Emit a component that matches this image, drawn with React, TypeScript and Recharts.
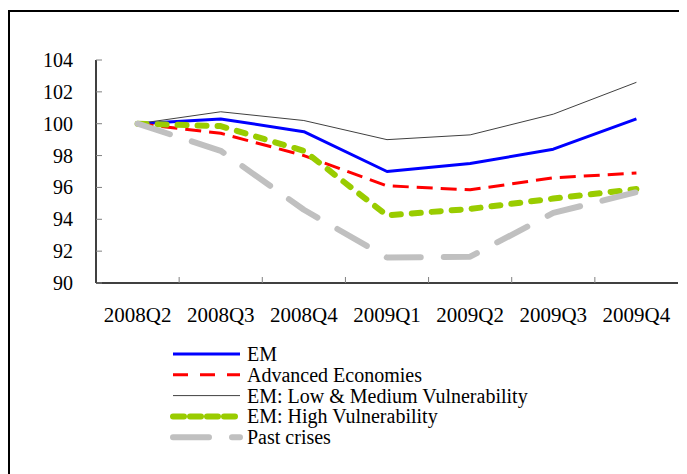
import { Line, LineChart, XAxis, YAxis } from 'recharts';

const quarters = ['2008Q2', '2008Q3', '2008Q4', '2009Q1', '2009Q2', '2009Q3', '2009Q4'];
const em = [100, 100.3, 99.5, 97.0, 97.5, 98.4, 100.3];
const advanced = [100, 99.4, 98.0, 96.1, 95.85, 96.6, 96.9];
const lowMed = [100, 100.75, 100.2, 99.0, 99.3, 100.6, 102.6];
const highVul = [100, 99.85, 98.3, 94.25, 94.65, 95.3, 95.9];
const pastCrises = [100, 98.3, 94.6, 91.6, 91.65, 94.4, 95.7];
const yTicks = [90, 92, 94, 96, 98, 100, 102, 104];

const data = quarters.map((q, i) => ({
  q,
  em: em[i],
  advanced: advanced[i],
  lowMed: lowMed[i],
  highVul: highVul[i],
  pastCrises: pastCrises[i],
}));

const FONT = 'Liberation Serif, Times New Roman, DejaVu Serif, serif';
const W = 687;
const H = 330;
const MARGIN = { top: 60, right: 9, left: 36, bottom: 7 };
const YW = 60;
const XH = 40;
const BAND = (W - MARGIN.left - MARGIN.right - YW) / quarters.length;

const series = [
  { key: 'em', name: 'EM', color: '#0000ff', width: 3, dash: undefined, cap: 'butt' },
  { key: 'advanced', name: 'Advanced Economies', color: '#ff0000', width: 3, dash: '16 8', cap: 'butt' },
  { key: 'lowMed', name: 'EM: Low & Medium Vulnerability', color: '#404040', width: 1, dash: undefined, cap: 'butt' },
  { key: 'highVul', name: 'EM: High Vulnerability', color: '#99cc00', width: 6, dash: '9 11', cap: 'round' },
  { key: 'pastCrises', name: 'Past crises', color: '#c0c0c0', width: 6, dash: '34 23', cap: 'round' },
];

const legendDash: Record<string, string | undefined> = {
  em: undefined,
  advanced: '15 12',
  lowMed: undefined,
  highVul: '11 6',
  pastCrises: '36 23',
};

const textStyle = { fontFamily: FONT };

function YTick(props: any) {
  const { x, y, payload } = props;
  return (
    <g>
      <text x={x} y={y} dy="0.35em" textAnchor="end" style={textStyle} fontSize={20} fill="#000">
        {payload.value}
      </text>
      <line x1={x + 23} x2={x + 29} y1={y} y2={y} stroke="#808080" strokeWidth={1} />
    </g>
  );
}

function XTick(props: any) {
  const { x, y, payload, index } = props;
  const axisY = y - 24;
  return (
    <g>
      <text x={x} y={y} dy="0.71em" textAnchor="middle" style={textStyle} fontSize={21} fill="#000">
        {payload.value}
      </text>
      {index < quarters.length - 1 && (
        <line x1={x + BAND / 2} x2={x + BAND / 2} y1={axisY} y2={axisY - 6} stroke="#808080" strokeWidth={1} />
      )}
    </g>
  );
}

export default function App() {
  return (
    <div style={{ position: 'relative', width: W, height: 474, fontFamily: FONT }}>
      <div
        style={{
          position: 'absolute',
          left: 0,
          top: 2,
          width: 700,
          height: 500,
          borderTop: '2.5px solid #000',
          borderLeft: '2.5px solid #000',
          boxSizing: 'border-box',
        }}
      />
      <div style={{ position: 'absolute', left: -8, top: -8 }}>
        <LineChart width={W} height={H} data={data} margin={MARGIN}>
          <XAxis
            dataKey="q"
            interval={0}
            height={XH}
            tickSize={0}
            tickMargin={24}
            tick={<XTick />}
            axisLine={{ stroke: '#000', strokeWidth: 1.5 }}
            padding={{ left: BAND / 2, right: BAND / 2 }}
          />
          <XAxis
            xAxisId="top"
            dataKey="q"
            orientation="top"
            height={0}
            tick={false}
            tickLine={false}
            axisLine={{ stroke: '#808080', strokeWidth: 1 }}
          />
          <YAxis
            domain={[90, 104]}
            ticks={yTicks}
            width={YW}
            tickSize={0}
            tickMargin={23}
            tick={<YTick />}
            interval={0}
            axisLine={{ stroke: '#000', strokeWidth: 1.5 }}
          />
          <YAxis
            yAxisId="right"
            orientation="right"
            domain={[90, 104]}
            width={0}
            tick={false}
            tickLine={false}
            axisLine={{ stroke: '#808080', strokeWidth: 1 }}
          />
          {series.map((s) => (
            <Line
              key={s.key}
              dataKey={s.key}
              name={s.name}
              stroke={s.color}
              strokeWidth={s.width}
              strokeDasharray={s.dash}
              strokeLinecap={s.cap as any}
              strokeLinejoin="round"
              dot={false}
              activeDot={false}
              isAnimationActive={false}
            />
          ))}
        </LineChart>
      </div>
      <svg style={{ position: 'absolute', left: -8, top: -8 }} width={W} height={474}>
        {series.map((s, i) => {
          const cy = 354 + i * 20.8;
          return (
            <g key={s.key}>
              <line
                x1={173}
                x2={240}
                y1={cy}
                y2={cy}
                stroke={s.color}
                strokeWidth={s.width}
                strokeDasharray={legendDash[s.key]}
                strokeLinecap={s.cap as any}
              />
              <text x={247} y={cy + 7} style={textStyle} fontSize={20} fill="#000">
                {s.name}
              </text>
            </g>
          );
        })}
      </svg>
    </div>
  );
}
